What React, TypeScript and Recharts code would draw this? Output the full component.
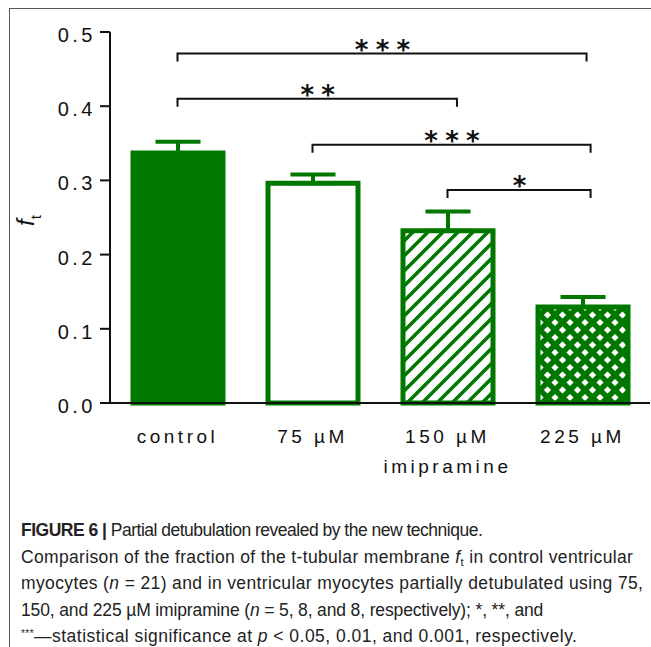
import { BarChart, Bar, XAxis, YAxis, Cell, ErrorBar, ReferenceLine } from "recharts";

// groups on the x axis (numeric positions so brackets can sit between centres)
const groups = ["control", "75 µM", "150 µM", "225 µM"];
const groupPos = [0, 1, 2, 3];
const ftMean = [0.337, 0.296, 0.232, 0.1295];
const ftSem = [0.015, 0.012, 0.026, 0.0135];
const yTicks = [0, 0.1, 0.2, 0.3, 0.4, 0.5];

// significance brackets
const bracketFrom = [0, 0, 1, 2];
const bracketTo = [3.03, 2.07, 3.06, 3.06];
const bracketLevel = [0.471, 0.41, 0.348, 0.287];
const bracketStars = ["* * *", "* *", "* * *", "*"];

const GREEN = "#007800";
const barFills = [GREEN, "#ffffff", "url(#stripes)", "url(#crosshatch)"];
const FONT = "'Liberation Sans', Arial, sans-serif";

const data = groups.map((g, i) => ({
  pos: groupPos[i],
  name: g,
  ft: ftMean[i],
  err: [0, ftSem[i]],
}));

function GroupTick({ x, y, payload }: any) {
  const idx = groupPos.indexOf(payload.value);
  return (
    <g>
      <text x={x} y={y} dy="0.71em" textAnchor="middle" fontFamily={FONT} fontSize={19} letterSpacing={3.5} fill="#111">
        {groups[idx]}
      </text>
      {idx === 2 && (
        <text x={x} y={y + 30} dy="0.71em" textAnchor="middle" fontFamily={FONT} fontSize={19} letterSpacing={3.5} fill="#111">
          imipramine
        </text>
      )}
    </g>
  );
}

function ValueTick({ x, y, payload }: any) {
  return (
    <text x={x} y={y} dy={10} textAnchor="end" fontFamily={FONT} fontSize={20} letterSpacing={3.5} fill="#111">
      {payload.value.toFixed(1)}
    </text>
  );
}

function FtLabel({ viewBox }: any) {
  const cx = viewBox.x + 34;
  const cy = viewBox.y + viewBox.height / 2 + 3;
  return (
    <text transform={`translate(${cx},${cy}) rotate(-90)`} textAnchor="middle" fontFamily={FONT} fill="#111">
      <tspan fontStyle="italic" fontSize={24}>f</tspan>
      <tspan fontSize={15} dy={7}>t</tspan>
    </text>
  );
}

const bracketShape = (stars: string) => (p: any) => (
  <g>
    <path d={`M${p.x1},${p.y1 + 8}V${p.y1}H${p.x2}V${p.y1 + 8}`} fill="none" stroke="#111" strokeWidth={2} />
    <text
      x={(p.x1 + p.x2) / 2}
      y={p.y1 + 5}
      textAnchor="middle"
      fontFamily="'DejaVu Sans'"
      fontWeight="bold"
      fontSize={26}
      letterSpacing={-0.9}
      fill="#111"
    >
      {stars}
    </text>
  </g>
);

const line = (ls: number) => ({ letterSpacing: ls });

export default function App() {
  return (
    <div style={{ position: "absolute", left: 0, top: 0, width: 651, height: 647, overflow: "hidden", background: "#fff" }}>
      <svg width={0} height={0} style={{ position: "absolute" }}>
        <defs>
          <pattern id="stripes" patternUnits="userSpaceOnUse" width={15} height={15}>
            <rect width={15} height={15} fill="#fff" />
            <path d="M-2,2 L2,-2 M0,15 L15,0 M13,17 L17,13" stroke={GREEN} strokeWidth={3.5} />
          </pattern>
          <pattern id="crosshatch" patternUnits="userSpaceOnUse" width={15} height={15}>
            <rect width={15} height={15} fill="#fff" />
            <path d="M0,0 L15,15 M15,0 L0,15" stroke={GREEN} strokeWidth={5.5} />
          </pattern>
        </defs>
      </svg>

      <div style={{ position: "absolute", left: 9, top: 8, width: 642, height: 639, borderTop: "1px solid #555", borderLeft: "1px solid #555" }} />

      <div style={{ position: "absolute", left: 0, top: 0 }}>
        <BarChart width={651} height={500} data={data} margin={{ top: 32, right: 1, left: 0, bottom: 7 }}>
          <XAxis
            dataKey="pos"
            type="number"
            domain={[-0.5, 3.5]}
            ticks={groupPos}
            interval={0}
            tick={<GroupTick />}
            tickLine={false}
            tickSize={0}
            tickMargin={27}
            height={90}
            axisLine={{ stroke: "#111", strokeWidth: 2 }}
          />
          <YAxis
            domain={[0, 0.5]}
            ticks={yTicks}
            width={110}
            tick={<ValueTick />}
            tickSize={10}
            tickMargin={4}
            axisLine={{ stroke: "#111", strokeWidth: 2 }}
            tickLine={{ stroke: "#111", strokeWidth: 2 }}
            label={{ content: FtLabel }}
          />
          <Bar dataKey="ft" barSize={90} stroke={GREEN} strokeWidth={5} isAnimationActive={false}>
            {data.map((d, i) => (
              <Cell key={d.name} fill={barFills[i]} />
            ))}
            <ErrorBar dataKey="err" direction="y" width={22.5} stroke={GREEN} strokeWidth={4} isAnimationActive={false} />
          </Bar>
          {bracketStars.map((s, i) => (
            <ReferenceLine
              key={i}
              segment={[
                { x: bracketFrom[i], y: bracketLevel[i] },
                { x: bracketTo[i], y: bracketLevel[i] },
              ]}
              shape={bracketShape(s)}
            />
          ))}
        </BarChart>
      </div>

      <div
        style={{
          position: "absolute",
          left: 21,
          top: 517,
          fontFamily: FONT,
          fontSize: 17.5,
          lineHeight: "26.5px",
          color: "#222",
          whiteSpace: "nowrap",
        }}
      >
        <div style={line(-0.5)}>
          <b>FIGURE 6 |</b> Partial detubulation revealed by the new technique.
        </div>
        <div style={line(0.34)}>
          Comparison of the fraction of the t-tubular membrane <i>f</i>
          <span style={{ fontSize: 11, verticalAlign: -3, lineHeight: 0 }}>t</span> in control ventricular
        </div>
        <div style={line(0.37)}>
          myocytes (<i>n</i> = 21) and in ventricular myocytes partially detubulated using 75,
        </div>
        <div style={line(-0.14)}>
          150, and 225 µM imipramine (<i>n</i> = 5, 8, and 8, respectively); *, **, and
        </div>
        <div style={line(0.47)}>
          <span style={{ fontSize: 10, verticalAlign: 5, lineHeight: 0 }}>***</span>—statistical significance at <i>p</i> &lt; 0.05, 0.01, and 0.001, respectively.
        </div>
      </div>
    </div>
  );
}
